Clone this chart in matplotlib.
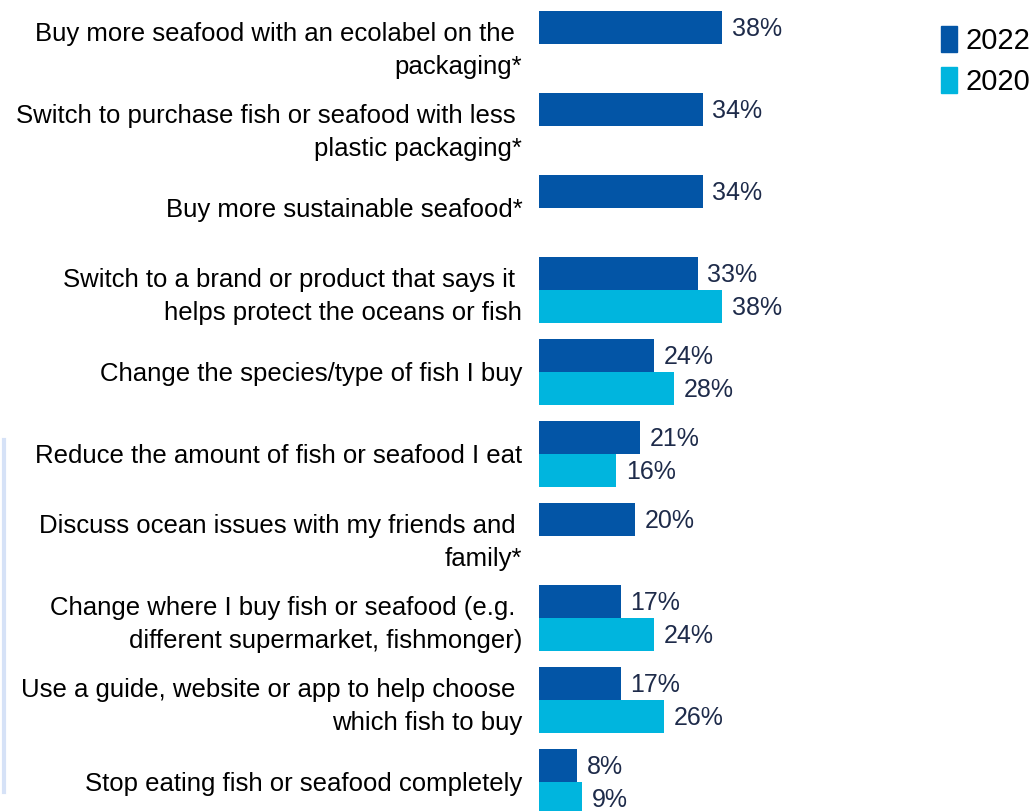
import numpy as np
import matplotlib
matplotlib.use("Agg")
import matplotlib.pyplot as plt
from matplotlib.patches import Patch
from matplotlib.lines import Line2D

plt.rcParams['font.family'] = ['Liberation Sans', 'DejaVu Sans']

# data
categories = [
    "Buy more seafood with an ecolabel on the \npackaging*",
    "Switch to purchase fish or seafood with less \nplastic packaging*",
    "Buy more sustainable seafood*",
    "Switch to a brand or product that says it \nhelps protect the oceans or fish",
    "Change the species/type of fish I buy",
    "Reduce the amount of fish or seafood I eat",
    "Discuss ocean issues with my friends and \nfamily*",
    "Change where I buy fish or seafood (e.g. \ndifferent supermarket, fishmonger)",
    "Use a guide, website or app to help choose \nwhich fish to buy",
    "Stop eating fish or seafood completely",
]
vals_2022 = [38, 34, 34, 33, 24, 21, 20, 17, 17, 8]
vals_2020 = [None, None, None, 38, 28, 16, None, 24, 26, 9]

c2022 = '#0355a6'
c2020 = '#00b5de'
label_col = '#1e2b4a'

fig = plt.figure(figsize=(10.35, 8.11), dpi=100)
ax = fig.add_axes([539 / 1035, 0, 1 - 539 / 1035, 1])

y = np.arange(len(categories))
h = 0.4

for i, v in enumerate(vals_2022):
    ax.barh(y[i] - h / 2, v, height=h, color=c2022)
    ax.annotate(f"{v}%", (v, y[i] - h / 2), xytext=(7, -1.5), textcoords='offset points',
                va='center', ha='left', fontsize=18, color=label_col)
for i, v in enumerate(vals_2020):
    if v is None:
        continue
    ax.barh(y[i] + h / 2, v, height=h, color=c2020)
    ax.annotate(f"{v}%", (v, y[i] + h / 2), xytext=(7, -1.5), textcoords='offset points',
                va='center', ha='left', fontsize=18, color=label_col)

ax.set_xlim(0, 496 / 4.81)
top = -0.4 - 11 / 82
ax.set_ylim(top + 811 / 82, top)
ax.set_yticks(y)
ax.set_yticklabels(categories, fontsize=18.5, linespacing=1.45)
ax.tick_params(axis='y', length=0, pad=12)
ax.set_xticks([])
for s in ax.spines.values():
    s.set_visible(False)

handles = [Patch(color=c2022, label='2022'), Patch(color=c2020, label='2020')]
fig.legend(handles=handles, loc='upper right', bbox_to_anchor=(1.007, 0.982),
           frameon=False, fontsize=21, handlelength=0.55, handleheight=0.98,
           handletextpad=0.3, labelspacing=0.4, borderaxespad=0)

fig.add_artist(Line2D([3.5 / 1035, 3.5 / 1035], [1 - 440 / 811, 1 - 792 / 811],
                      color='#d6e2f7', linewidth=3))

fig.savefig("out.png", dpi=100)
